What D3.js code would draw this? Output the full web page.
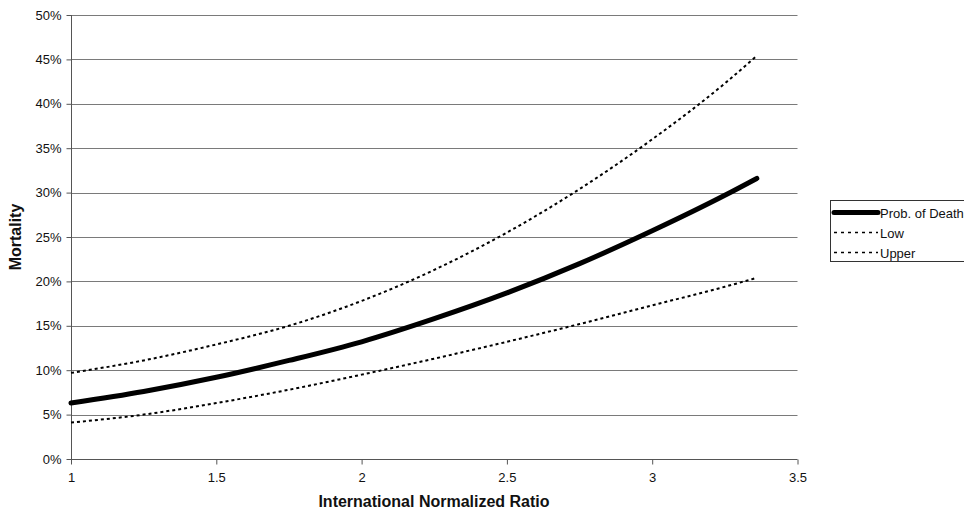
<!DOCTYPE html>
<html>
<head>
<meta charset="utf-8">
<script src="https://cdn.jsdelivr.net/npm/d3@7/dist/d3.min.js"></script>
<style>
html,body{margin:0;padding:0;background:#fff;}
svg{display:block;font-family:"Liberation Sans",Arial,sans-serif;}
</style>
</head>
<body>
<svg id="chart" width="964" height="513"></svg>
<script>
// Data
const inr      = [1.0, 1.25, 1.5, 1.75, 2.0, 2.25, 2.5, 2.75, 3.0, 3.25, 3.36];
const probDeath= [0.063,0.076,0.092,0.111,0.132,0.158,0.187,0.220,0.257,0.297,0.316];
const low      = [0.041,0.050,0.063,0.078,0.095,0.113,0.132,0.152,0.173,0.194,0.204];
const upper    = [0.097,0.111,0.129,0.150,0.178,0.213,0.255,0.304,0.360,0.423,0.454];
const xTicks   = [1, 1.5, 2, 2.5, 3, 3.5];
const yTicks   = [0,0.05,0.10,0.15,0.20,0.25,0.30,0.35,0.40,0.45,0.50];
const seriesNames = ["Prob. of Death", "Low", "Upper"];

const svg = d3.select("#chart");
const L = 71, R = 797.5, T = 15, B = 459;
const x = d3.scaleLinear().domain([1, 3.5]).range([L, R]);
const y = d3.scaleLinear().domain([0, 0.5]).range([B, T]);

// gridlines
svg.append("g").selectAll("line").data(yTicks.filter(d => d > 0)).join("line")
  .attr("x1", L).attr("x2", R)
  .attr("y1", d => Math.round(y(d)) + 0.5).attr("y2", d => Math.round(y(d)) + 0.5)
  .attr("stroke", "#7a7a7a").attr("stroke-width", 1);

// y axis
const yAxis = svg.append("g").attr("transform", `translate(${L + 0.5},0)`)
  .call(d3.axisLeft(y).tickValues(yTicks).tickFormat(d3.format(".0%")).tickSize(5).tickPadding(5));
yAxis.select(".domain").attr("stroke", "#555").attr("d", `M0,${T}V${B}`);
yAxis.selectAll(".tick line").attr("stroke", "#555");
yAxis.selectAll("text").attr("font-size", 13).attr("fill", "#111").attr("font-family", "Liberation Sans, Arial, sans-serif");

// x axis
const xAxis = svg.append("g").attr("transform", `translate(0,${B + 0.5})`)
  .call(d3.axisBottom(x).tickValues(xTicks).tickFormat(d => d).tickSize(5).tickPadding(8));
xAxis.select(".domain").attr("stroke", "#555").attr("d", `M${L},0H${R}`);
xAxis.selectAll(".tick line").attr("stroke", "#555");
xAxis.selectAll("text").attr("font-size", 13).attr("fill", "#111").attr("font-family", "Liberation Sans, Arial, sans-serif");

// titles
svg.append("text").attr("x", 434).attr("y", 507).attr("text-anchor", "middle")
  .attr("font-size", 16).attr("font-weight", "bold").attr("fill", "#111")
  .text("International Normalized Ratio");
svg.append("text").attr("transform", "translate(21,237) rotate(-90)").attr("text-anchor", "middle")
  .attr("font-size", 16).attr("font-weight", "bold").attr("fill", "#111")
  .text("Mortality");

// lines
const line = d3.line().x((d, i) => x(inr[i])).y(d => y(d)).curve(d3.curveMonotoneX);
const styles = [
  {data: probDeath, w: 5, dash: null},
  {data: low, w: 2, dash: "3,3"},
  {data: upper, w: 2, dash: "3,3"}
];
styles.forEach(s => {
  svg.append("path").attr("d", line(s.data)).attr("fill", "none")
    .attr("stroke", "#000").attr("stroke-width", s.w)
    .attr("stroke-linecap", s.dash ? "butt" : "round")
    .attr("stroke-dasharray", s.dash);
});

// legend
const lg = svg.append("g");
lg.append("rect").attr("x", 830.5).attr("y", 200.5).attr("width", 140).attr("height", 61)
  .attr("fill", "#fff").attr("stroke", "#333").attr("stroke-width", 1);
const legY = [212.5, 232.5, 252.5];
seriesNames.forEach((n, i) => {
  lg.append("line").attr("x1", 834).attr("x2", 878).attr("y1", legY[i]).attr("y2", legY[i])
    .attr("stroke", "#000").attr("stroke-width", i === 0 ? 5 : 1.5)
    .attr("stroke-linecap", i === 0 ? "round" : "butt")
    .attr("stroke-dasharray", i === 0 ? null : "3,4");
  lg.append("text").attr("x", 880).attr("y", legY[i] + 5).attr("font-size", 13).attr("fill", "#111")
    .text(n);
});
</script>
</body>
</html>
